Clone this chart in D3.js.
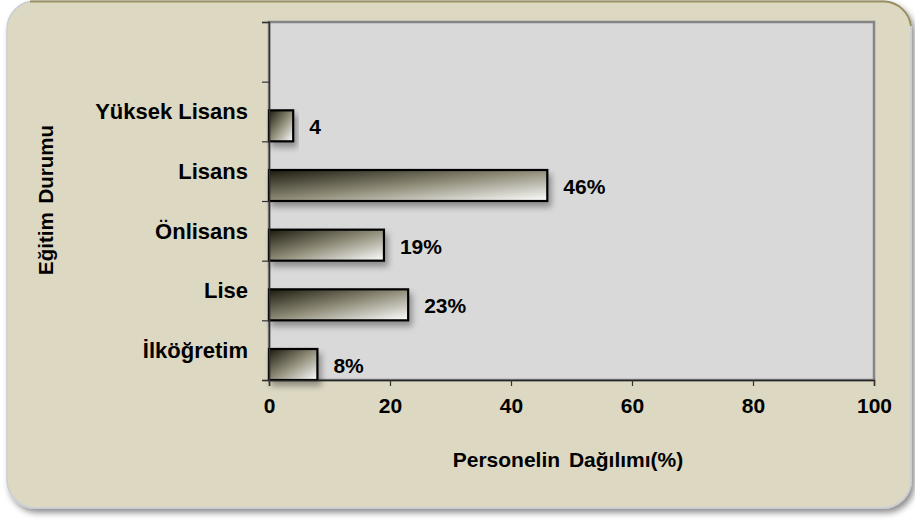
<!DOCTYPE html>
<meta charset="utf-8">
<style>
body { margin: 0; background: #fff; }
text { font-family: "Liberation Sans", Arial, sans-serif; font-weight: bold; fill: #000; }
</style>
<svg width="915" height="520"></svg>
<script src="https://d3js.org/d3.v7.min.js"></script>
<script>
// slots from top to bottom, first one is empty
var categories = ["", "Yüksek Lisans", "Lisans", "Önlisans", "Lise", "İlköğretim"];
var values = [null, 4, 46, 19, 23, 8];
var valueLabels = ["", "4", "46%", "19%", "23%", "8%"];
var xTicks = [0, 20, 40, 60, 80, 100];

var svg = d3.select("svg");
var defs = svg.append("defs");

var shadow = defs.append("filter").attr("id", "boxshadow")
    .attr("x", "-5%").attr("y", "-5%").attr("width", "110%").attr("height", "115%");
shadow.append("feDropShadow").attr("dx", 3).attr("dy", 4).attr("stdDeviation", 3)
    .attr("flood-color", "#000").attr("flood-opacity", 0.45);

var barShadow = defs.append("filter").attr("id", "barshadow")
    .attr("x", "-10%").attr("y", "-20%").attr("width", "130%").attr("height", "170%");
barShadow.append("feDropShadow").attr("dx", 3).attr("dy", 5).attr("stdDeviation", 3)
    .attr("flood-color", "#000").attr("flood-opacity", 0.35);

var grad = defs.append("linearGradient").attr("id", "bargrad")
    .attr("x1", 0).attr("y1", 0).attr("x2", 1).attr("y2", 1);
grad.append("stop").attr("offset", "0%").attr("stop-color", "#1c1a0e");
grad.append("stop").attr("offset", "50%").attr("stop-color", "#8f8c78");
grad.append("stop").attr("offset", "100%").attr("stop-color", "#ffffff");

// outer panel
svg.append("rect")
    .attr("x", 7).attr("y", 1).attr("width", 904).attr("height", 507)
    .attr("rx", 28).attr("ry", 28)
    .attr("fill", "#ddd8c2")
    .attr("stroke", "#c9cdd6").attr("stroke-width", 1.5)
    .attr("filter", "url(#boxshadow)");
svg.append("path")
    .attr("d", "M 30 1.5 L 884 1.5 A 28 28 0 0 1 911 26")
    .attr("fill", "none").attr("stroke", "#9a9162").attr("stroke-width", 2);

var plotLeft = 269, plotRight = 874, plotTop = 22, plotBottom = 380;

var x = d3.scaleLinear().domain([0, 100]).range([plotLeft, plotRight]);
var y = d3.scaleBand().domain(categories.map(function(d, i) { return i; }))
    .range([plotTop, plotBottom]);

// plot area
svg.append("rect")
    .attr("x", plotLeft).attr("y", plotTop)
    .attr("width", plotRight - plotLeft).attr("height", plotBottom - plotTop)
    .attr("fill", "#d9d9d9")
    .attr("stroke", "#858585").attr("stroke-width", 2.5);

// bars: sit on the lower half of each band
var barH = 31;
var bars = categories.map(function(c, i) { return { i: i, v: values[i], label: valueLabels[i] }; })
    .filter(function(d) { return d.v !== null; });

svg.append("g").selectAll("rect")
    .data(bars)
    .enter().append("rect")
    .attr("x", x(0))
    .attr("y", function(d) { return y(d.i) + y.bandwidth() - barH; })
    .attr("width", function(d) { return x(d.v) - x(0); })
    .attr("height", barH)
    .attr("fill", "url(#bargrad)")
    .attr("stroke", "#000").attr("stroke-width", 2.2)
    .attr("filter", "url(#barshadow)");

svg.append("g").selectAll("text")
    .data(bars)
    .enter().append("text")
    .attr("x", function(d) { return x(d.v) + 16; })
    .attr("y", function(d) { return y(d.i) + y.bandwidth() - barH / 2 + 1; })
    .attr("dy", "0.36em")
    .style("font-size", "21px")
    .text(function(d) { return d.label; });

// axes
var yAxis = svg.append("g")
    .attr("transform", "translate(" + plotLeft + ",0)")
    .call(d3.axisLeft(d3.scaleLinear().domain([0, 6]).range([plotBottom, plotTop]))
        .ticks(6).tickSize(7).tickFormat(""));
yAxis.select(".domain").attr("stroke", "#333").attr("stroke-width", 1.5);
yAxis.selectAll(".tick line").attr("stroke", "#333").attr("stroke-width", 1.2);

svg.append("g").selectAll("text")
    .data(categories)
    .enter().append("text")
    .attr("x", 248)
    .attr("y", function(d, i) { return y(i) + y.bandwidth() / 2; })
    .attr("dy", "0.36em")
    .attr("text-anchor", "end")
    .style("font-size", "22px")
    .text(function(d) { return d; });

var xAxis = svg.append("g")
    .attr("transform", "translate(0," + plotBottom + ")")
    .call(d3.axisBottom(x).tickValues(xTicks).tickSize(6).tickPadding(12));
xAxis.select(".domain").attr("stroke", "#222").attr("stroke-width", 1.5);
xAxis.selectAll(".tick line").attr("stroke", "#333").attr("stroke-width", 1.2);
xAxis.selectAll(".tick text")
    .style("font-family", "'Liberation Sans', Arial, sans-serif")
    .style("font-weight", "bold")
    .style("font-size", "21px")
    .attr("fill", "#000");

// titles
svg.append("text")
    .attr("x", 568).attr("y", 467)
    .attr("text-anchor", "middle")
    .style("font-size", "21px")
    .style("word-spacing", "3px")
    .text("Personelin Dağılımı(%)");

svg.append("text")
    .attr("transform", "translate(53,200) rotate(-90)")
    .attr("text-anchor", "middle")
    .style("font-size", "20.5px")
    .style("word-spacing", "3px")
    .text("Eğitim Durumu");
</script>
